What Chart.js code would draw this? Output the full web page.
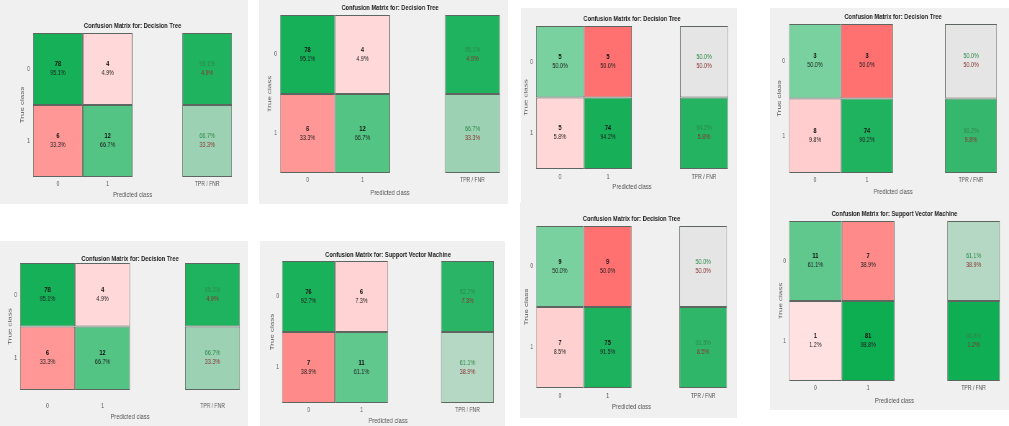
<!DOCTYPE html>
<html>
<head>
<meta charset="utf-8">
<script src="https://cdn.jsdelivr.net/npm/chart.js@4.4.1/dist/chart.umd.min.js"></script>
<style>
html, body { margin: 0; padding: 0; background: #ffffff; width: 1009px; height: 426px; overflow: hidden; }
.panel { position: absolute; background: #f0f0f0; overflow: hidden; }
.panel canvas { position: absolute; left: 0; top: 0; transform-origin: 0 0; }
</style>
</head>
<body>
<script>
// ---------------- DATA ----------------
const predictedClassLabels = ['0', '1', '', 'TPR / FNR'];
const trueClassLabels = ['0', '1'];
const xAxisTitle = 'Predicted class';
const yAxisTitle = 'True class';

const panelTitles = [
  'Confusion Matrix for: Decision Tree',
  'Confusion Matrix for: Decision Tree',
  'Confusion Matrix for: Decision Tree',
  'Confusion Matrix for: Decision Tree',
  'Confusion Matrix for: Decision Tree',
  'Confusion Matrix for: Support Vector Machine',
  'Confusion Matrix for: Decision Tree',
  'Confusion Matrix for: Support Vector Machine'
];

// cells in order: [true0/pred0, true0/pred1, true1/pred0, true1/pred1]
const counts1 = [78, 4, 6, 12];
const percents1 = [95.1, 4.9, 33.3, 66.7];
const rates1 = [95.1, 4.9, 66.7, 33.3];   // [TPR0, FNR0, TPR1, FNR1]

const counts2 = [78, 4, 6, 12];
const percents2 = [95.1, 4.9, 33.3, 66.7];
const rates2 = [95.1, 4.9, 66.7, 33.3];

const counts3 = [5, 5, 5, 74];
const percents3 = [50.0, 50.0, 5.8, 94.2];
const rates3 = [50.0, 50.0, 94.2, 5.8];

const counts4 = [3, 3, 8, 74];
const percents4 = [50.0, 50.0, 9.8, 90.2];
const rates4 = [50.0, 50.0, 90.2, 9.8];

const counts5 = [78, 4, 6, 12];
const percents5 = [95.1, 4.9, 33.3, 66.7];
const rates5 = [95.1, 4.9, 66.7, 33.3];

const counts6 = [76, 6, 7, 11];
const percents6 = [92.7, 7.3, 38.9, 61.1];
const rates6 = [92.7, 7.3, 61.1, 38.9];

const counts7 = [9, 9, 7, 75];
const percents7 = [50.0, 50.0, 8.5, 91.5];
const rates7 = [50.0, 50.0, 91.5, 8.5];

const counts8 = [11, 7, 1, 81];
const percents8 = [61.1, 38.9, 1.2, 98.8];
const rates8 = [61.1, 38.9, 98.8, 1.2];

const panelCounts = [counts1, counts2, counts3, counts4, counts5, counts6, counts7, counts8];
const panelPercents = [percents1, percents2, percents3, percents4, percents5, percents6, percents7, percents8];
const panelRates = [rates1, rates2, rates3, rates4, rates5, rates6, rates7, rates8];

// ---------------- LAYOUT / STYLE ----------------
const SX = 0.72; // horizontal squeeze of the screenshots
const FONT = '"Liberation Sans", Arial, sans-serif';
// rect: [x, y, w, h]; grid: [left, right, top, bottom] in page pixels
const panelLayouts = [
  { rect: [0, 0, 248, 204],   grid: [33, 232, 33, 177],   titleY: 26,  xTickY: 184, xTitleY: 195, yTickX: 30,  yTitleX: 22 },
  { rect: [259, 0, 249, 204], grid: [280, 500, 15, 173],  titleY: 8,   xTickY: 180, xTitleY: 193, yTickX: 277, yTitleX: 270 },
  { rect: [521, 8, 216, 194], grid: [536, 728, 26, 169],  titleY: 19,  xTickY: 177, xTitleY: 187, yTickX: 533, yTitleX: 526 },
  { rect: [770, 8, 239, 194], grid: [789, 997, 24, 173],  titleY: 17,  xTickY: 180, xTitleY: 192, yTickX: 785, yTitleX: 779 },
  { rect: [0, 241, 248, 185], grid: [20, 240, 263, 390],  titleY: 259, xTickY: 406, xTitleY: 417, yTickX: 17,  yTitleX: 10 },
  { rect: [260, 241, 245, 185], grid: [282, 494, 261, 403], titleY: 255, xTickY: 410, xTitleY: 421, yTickX: 279, yTitleX: 272 },
  { rect: [520, 202, 217, 216], grid: [536, 727, 226, 388], titleY: 219, xTickY: 396, xTitleY: 407, yTickX: 533, yTitleX: 526 },
  { rect: [770, 202, 239, 208], grid: [789, 1000, 221, 381], titleY: 214, xTickY: 388, xTitleY: 401, yTickX: 786, yTitleX: 781 }
];

const GREEN_LOW = [230, 245, 236], GREEN_HIGH = [10, 172, 80];
const RED_LOW = [255, 228, 228], RED_HIGH = [255, 112, 112];
const NEUTRAL = [229, 229, 229];
function mix(a, b, t) {
  t = Math.max(0, Math.min(1, t));
  return 'rgb(' + a.map((v, k) => Math.round(v + (b[k] - v) * t)).join(',') + ')';
}

function cellColor(p, r, c) {
  if (predictedClassLabels[c] === '') return 'rgba(0,0,0,0)';
  if (c < 2) {
    const v = panelPercents[p][r * 2 + c];
    return r === c ? mix(GREEN_LOW, GREEN_HIGH, v / 100) : mix(RED_LOW, RED_HIGH, v / 50);
  }
  const t = (panelRates[p][r * 2] - 50) / 50;
  return t >= 0 ? mix(NEUTRAL, GREEN_HIGH, t) : mix(NEUTRAL, RED_HIGH, -t);
}

function makePanel(p) {
  const L = panelLayouts[p];
  const [rx, ry, rw, rh] = L.rect;
  const [gl, gr, gt, gb] = L.grid;
  const div = document.createElement('div');
  div.className = 'panel';
  Object.assign(div.style, { left: rx + 'px', top: ry + 'px', width: rw + 'px', height: rh + 'px' });
  document.body.appendChild(div);

  const CW = Math.round(rw / SX);
  const canvas = document.createElement('canvas');
  canvas.width = CW; canvas.height = rh;
  canvas.style.width = CW + 'px'; canvas.style.height = rh + 'px';
  canvas.style.transform = 'scaleX(' + SX + ')';
  div.appendChild(canvas);

  const lg = (gl - rx) / SX, rg = (gr - rx) / SX, tg = gt - ry, bg = gb - ry;
  const TITLE_FS = 8;
  const titleCenter = L.titleY - ry;
  const padTop = Math.max(0, titleCenter - TITLE_FS / 2);
  const titlePadBottom = Math.max(0, tg - padTop - TITLE_FS);
  const TICK_FS = 7, TICK_LH = TICK_FS * 1.2;
  const AX_FS = 8, AX_LH = AX_FS * 1.2;
  const xAxisH = rh - bg;
  const yAxisW = lg;
  const xTickPad = Math.max(0, (L.xTickY - gb) - TICK_LH / 2);
  const xTitlePadBottom = Math.max(0, (ry + rh - L.xTitleY) - AX_LH / 2);
  const yTickPad = Math.max(0, (gl - L.yTickX) / SX);
  const yTitlePadTop = Math.max(0, (L.yTitleX - rx) / SX - AX_LH / 2);

  const counts = panelCounts[p], percents = panelPercents[p], rates = panelRates[p];

  const datasets = trueClassLabels.map((lab, r) => ({
    label: 'True class ' + lab,
    data: predictedClassLabels.map(l => (l === '' ? null : 1)),
    backgroundColor: predictedClassLabels.map((l, c) => cellColor(p, r, c)),
    borderColor: '#5d675f',
    borderWidth: 1,
    borderSkipped: false,
    inflateAmount: 0,
    barPercentage: 1,
    categoryPercentage: 1
  }));

  const cellText = {
    id: 'cellText' + p,
    afterDatasetsDraw(chart) {
      const ctx = chart.ctx;
      chart.data.datasets.forEach((ds, r) => {
        const meta = chart.getDatasetMeta(r);
        meta.data.forEach((el, c) => {
          if (ds.data[c] == null) return;
          const { x, y, base } = el.getProps(['x', 'y', 'base'], true);
          const cy = (y + base) / 2;
          ctx.save();
          ctx.textAlign = 'center';
          ctx.textBaseline = 'middle';
          if (c < 2) {
            ctx.font = 'bold 8px ' + FONT;
            ctx.fillStyle = '#111111';
            ctx.fillText(String(counts[r * 2 + c]), x, cy - 5);
            ctx.font = '7.5px ' + FONT;
            ctx.fillStyle = '#1f1f1f';
            ctx.fillText(percents[r * 2 + c].toFixed(1) + '%', x, cy + 4);
          } else {
            ctx.font = '7.5px ' + FONT;
            ctx.fillStyle = '#2e8a4a';
            ctx.fillText(rates[r * 2].toFixed(1) + '%', x, cy - 5);
            ctx.fillStyle = '#8c3434';
            ctx.fillText(rates[r * 2 + 1].toFixed(1) + '%', x, cy + 4);
          }
          ctx.restore();
        });
      });
    }
  };

  new Chart(canvas, {
    type: 'bar',
    data: { labels: predictedClassLabels, datasets },
    plugins: [cellText],
    options: {
      responsive: false,
      animation: false,
      events: [],
      devicePixelRatio: 1,
      layout: { padding: { left: 0, right: CW - rg, top: padTop, bottom: 0 } },
      plugins: {
        legend: { display: false },
        tooltip: { enabled: false },
        title: {
          display: true,
          text: panelTitles[p],
          fullSize: false,
          color: '#222222',
          font: { family: FONT, size: TITLE_FS, weight: 'bold', lineHeight: 1 },
          padding: { top: 0, bottom: titlePadBottom }
        }
      },
      scales: {
        x: {
          type: 'category',
          stacked: true,
          offset: true,
          grid: { display: false, drawTicks: false },
          border: { display: false },
          ticks: { font: { family: FONT, size: TICK_FS }, color: '#555555', padding: xTickPad, maxRotation: 0, autoSkip: false },
          title: { display: true, text: xAxisTitle, color: '#555555', font: { family: FONT, size: AX_FS }, padding: { top: 0, bottom: xTitlePadBottom } },
          afterFit(s) { s.height = xAxisH; }
        },
        y: {
          type: 'linear',
          stacked: true,
          min: 0,
          max: trueClassLabels.length,
          reverse: true,
          grid: { display: false, drawTicks: false },
          border: { display: false },
          afterBuildTicks(axis) { axis.ticks = trueClassLabels.map((_, k) => ({ value: k + 0.5 })); },
          ticks: {
            font: { family: FONT, size: TICK_FS }, color: '#555555', padding: yTickPad,
            callback: (v) => trueClassLabels[Math.floor(v)]
          },
          title: { display: true, text: yAxisTitle, color: '#555555', font: { family: FONT, size: AX_FS }, padding: { top: yTitlePadTop, bottom: 0 } },
          afterFit(s) { s.width = yAxisW; }
        }
      }
    }
  });
}

for (let p = 0; p < panelLayouts.length; p++) makePanel(p);
</script>
</body>
</html>
